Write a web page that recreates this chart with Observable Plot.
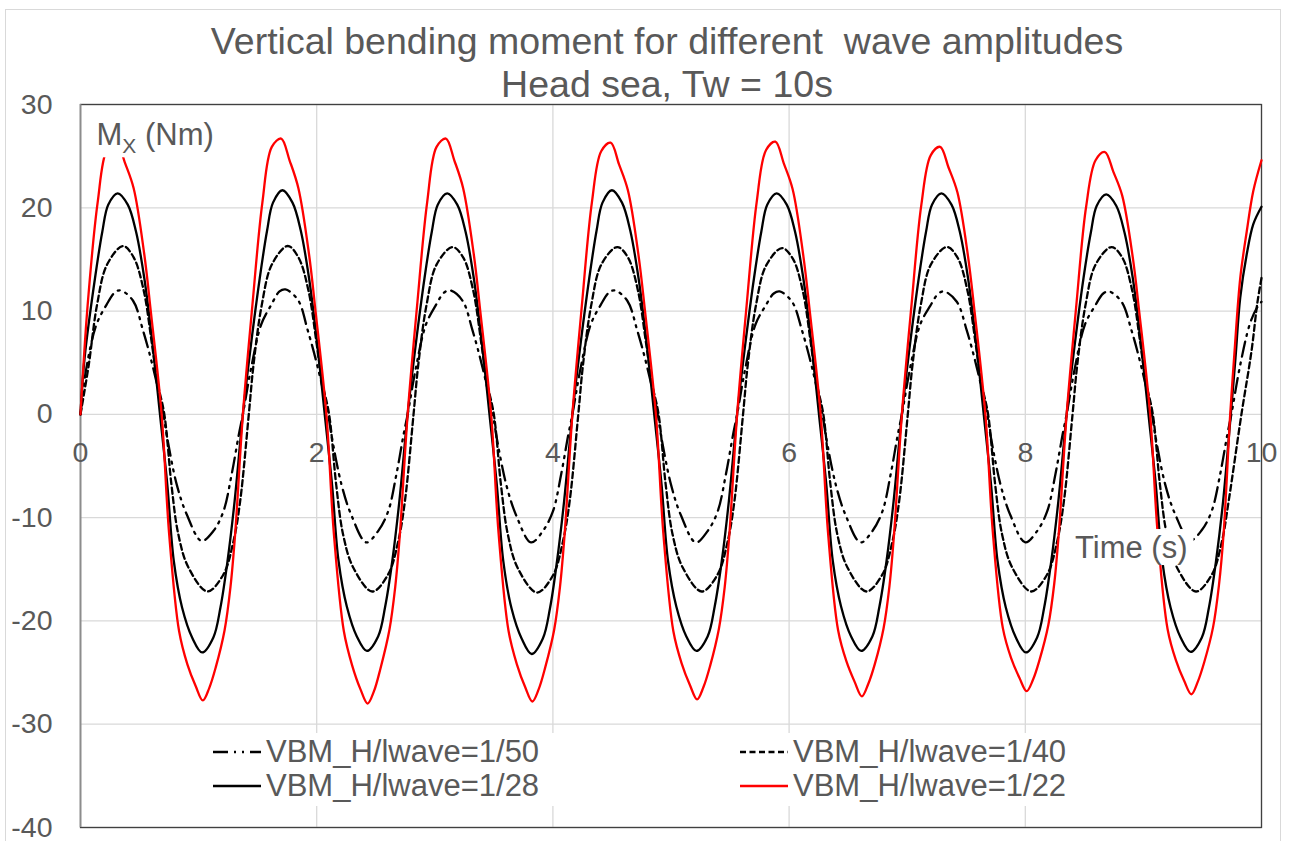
<!DOCTYPE html>
<html><head><meta charset="utf-8">
<script src="https://cdn.jsdelivr.net/npm/d3@7"></script>
<script src="https://cdn.jsdelivr.net/npm/@observablehq/plot@0.6"></script>
<style>
html,body{margin:0;padding:0;background:#fff;}
#root{position:relative;width:1291px;height:841px;overflow:hidden;font-family:"Liberation Sans",Arial,sans-serif;color:#595959;}
#frameOuter{position:absolute;left:5px;top:9px;width:1276px;height:840px;border:1px solid #d9d9d9;box-sizing:border-box;}
#title{position:absolute;left:167px;width:1000px;top:20px;text-align:center;font-size:37.5px;line-height:43px;white-space:pre;}
#chart{position:absolute;left:0;top:94px;}
#legend{position:absolute;left:205px;top:733px;width:880px;height:73px;background:#fff;}
.item{position:absolute;height:33px;display:flex;align-items:center;font-size:31px;white-space:nowrap;color:#595959;}
.item svg{margin-right:3px;}
</style></head>
<body><div id="root">
<div id="frameOuter"></div>
<div id="title"></div>
<div id="chart"></div>
<div id="legend"></div>
</div>
<script>
const titleLines = ["Vertical bending moment for different  wave amplitudes", "Head sea, Tw = 10s"];
const seriesNames = ["VBM_H/lwave=1/50", "VBM_H/lwave=1/40", "VBM_H/lwave=1/28", "VBM_H/lwave=1/22"];
const xTicks = [0, 2, 4, 6, 8, 10];
const yTicks = [-40, -30, -20, -10, 0, 10, 20, 30];
const yLabelText = "M_X (Nm)";
const xLabelText = "Time (s)";

// H/lwave = 1/50 (dash-dot)
const t50 = [
0, 0.05, 0.135, 0.22, 0.29, 0.34, 0.445, 0.53, 0.615, 0.702, 0.73, 0.815, 0.9, 1.025, 1.125, 1.21, 1.28, 1.34,
1.375, 1.445, 1.53, 1.615, 1.685, 1.735, 1.84, 1.925, 2.01, 2.097, 2.125, 2.21, 2.295, 2.42, 2.52, 2.605, 2.675, 2.735,
2.77, 2.84, 2.925, 3.01, 3.08, 3.13, 3.235, 3.32, 3.405, 3.492, 3.52, 3.605, 3.69, 3.815, 3.915, 4.0, 4.07, 4.13,
4.165, 4.235, 4.32, 4.405, 4.475, 4.525, 4.63, 4.715, 4.8, 4.887, 4.915, 5.0, 5.085, 5.21, 5.31, 5.395, 5.465, 5.525,
5.56, 5.63, 5.715, 5.8, 5.87, 5.92, 6.025, 6.11, 6.195, 6.282, 6.31, 6.395, 6.48, 6.605, 6.705, 6.79, 6.86, 6.92,
6.955, 7.025, 7.11, 7.195, 7.265, 7.315, 7.42, 7.505, 7.59, 7.677, 7.705, 7.79, 7.875, 8.0, 8.1, 8.185, 8.255, 8.315,
8.35, 8.42, 8.505, 8.59, 8.66, 8.71, 8.815, 8.9, 8.985, 9.072, 9.1, 9.185, 9.27, 9.395, 9.495, 9.58, 9.65, 9.71,
9.745, 9.815, 9.9, 9.96, 10];
const v50 = [
0, 4.5, 8.7, 10.6, 11.8, 12.0, 11, 8.1, 4.5, 0, -2, -6.8, -9.7, -12.25, -11.3, -9.4, -5.8, -2,
0, 4.5, 8.7, 10.6, 11.9, 12.1, 11.1, 8.1, 4.5, 0, -2, -6.8, -9.8, -12.4, -11.3, -9.4, -5.8, -2,
0, 4.5, 8.7, 10.6, 11.8, 12.0, 11, 8.1, 4.5, 0, -2, -6.8, -9.8, -12.4, -11.3, -9.4, -5.8, -2,
0, 4.5, 8.7, 10.6, 11.8, 12.0, 11, 8.1, 4.5, 0, -2, -6.8, -9.8, -12.4, -11.3, -9.4, -5.8, -2,
0, 4.5, 8.7, 10.5, 11.7, 11.9, 10.9, 8.1, 4.5, 0, -2, -6.8, -9.8, -12.4, -11.3, -9.4, -5.8, -2,
0, 4.5, 8.7, 10.5, 11.7, 11.9, 10.9, 8.1, 4.5, 0, -2, -6.8, -9.8, -12.4, -11.3, -9.4, -5.8, -2,
0, 4.5, 8.7, 10.5, 11.7, 11.9, 10.9, 8.1, 4.5, 0, -2, -6.8, -9.7, -12.2, -11.2, -9.3, -5.8, -2,
0, 4.5, 8.7, 10.3, 10.9];

// H/lwave = 1/40 (short dash)
const t40 = [
0, 0.07, 0.14, 0.225, 0.36, 0.45, 0.535, 0.605, 0.65, 0.71, 0.77, 0.828, 0.913, 1.075, 1.21, 1.295, 1.352,
1.425, 1.465, 1.535, 1.62, 1.755, 1.845, 1.93, 2.0, 2.045, 2.105, 2.165, 2.223, 2.308, 2.47, 2.605, 2.69, 2.747,
2.82, 2.86, 2.93, 3.015, 3.15, 3.24, 3.325, 3.395, 3.44, 3.5, 3.56, 3.618, 3.703, 3.865, 4.0, 4.085, 4.142,
4.215, 4.255, 4.325, 4.41, 4.545, 4.635, 4.72, 4.79, 4.835, 4.895, 4.955, 5.013, 5.098, 5.26, 5.395, 5.48, 5.537,
5.61, 5.65, 5.72, 5.805, 5.94, 6.03, 6.115, 6.185, 6.23, 6.29, 6.35, 6.408, 6.493, 6.655, 6.79, 6.875, 6.932,
7.005, 7.045, 7.115, 7.2, 7.335, 7.425, 7.51, 7.58, 7.625, 7.685, 7.745, 7.803, 7.888, 8.05, 8.185, 8.27, 8.327,
8.4, 8.44, 8.51, 8.595, 8.73, 8.82, 8.905, 8.975, 9.02, 9.08, 9.14, 9.198, 9.283, 9.445, 9.58, 9.665, 9.722,
9.83, 9.915, 9.965, 10];
const v40 = [
0, 4.8, 10.6, 14.5, 16.3, 15.2, 12, 6.8, 3.2, 0, -6.8, -11.6, -14.8, -17.15, -15.5, -12.3, -8.4,
0, 4.8, 10.6, 14.5, 16.3, 15.2, 12, 6.8, 3.2, 0, -6.8, -11.6, -14.8, -17.15, -15.5, -12.3, -8.4,
0, 4.8, 10.6, 14.5, 16.2, 15.2, 12, 6.8, 3.2, 0, -6.8, -11.6, -14.9, -17.25, -15.6, -12.3, -8.4,
0, 4.8, 10.6, 14.5, 16.2, 15.2, 12, 6.8, 3.2, 0, -6.8, -11.6, -14.8, -17.15, -15.5, -12.3, -8.4,
0, 4.8, 10.6, 14.4, 16.1, 15.1, 12, 6.8, 3.2, 0, -6.8, -11.6, -14.8, -17.15, -15.5, -12.3, -8.4,
0, 4.8, 10.6, 14.5, 16.2, 15.2, 12, 6.8, 3.2, 0, -6.8, -11.6, -14.8, -17.15, -15.5, -12.3, -8.4,
0, 4.8, 10.6, 14.5, 16.2, 15.2, 12, 6.8, 3.2, 0, -6.8, -11.6, -14.8, -17.15, -15.5, -12.3, -8.4,
0, 6.1, 10.8, 13.2];

// H/lwave = 1/28 (solid black)
const t28 = [
0, 0.035, 0.123, 0.185, 0.235, 0.315, 0.4, 0.47, 0.54, 0.61, 0.673, 0.735, 0.79, 0.86, 0.945, 1.03, 1.125, 1.185, 1.245, 1.305,
1.375, 1.43, 1.518, 1.58, 1.63, 1.71, 1.795, 1.865, 1.935, 2.005, 2.068, 2.13, 2.185, 2.255, 2.34, 2.425, 2.52, 2.58, 2.64, 2.7,
2.77, 2.825, 2.913, 2.975, 3.025, 3.105, 3.19, 3.26, 3.33, 3.4, 3.463, 3.525, 3.58, 3.65, 3.735, 3.82, 3.915, 3.975, 4.035, 4.095,
4.165, 4.22, 4.308, 4.37, 4.42, 4.5, 4.585, 4.655, 4.725, 4.795, 4.858, 4.92, 4.975, 5.045, 5.13, 5.215, 5.31, 5.37, 5.43, 5.49,
5.56, 5.615, 5.703, 5.765, 5.815, 5.895, 5.98, 6.05, 6.12, 6.19, 6.253, 6.315, 6.37, 6.44, 6.525, 6.61, 6.705, 6.765, 6.825, 6.885,
6.955, 7.01, 7.098, 7.16, 7.21, 7.29, 7.375, 7.445, 7.515, 7.585, 7.648, 7.71, 7.765, 7.835, 7.92, 8.005, 8.1, 8.16, 8.22, 8.28,
8.35, 8.405, 8.493, 8.555, 8.605, 8.685, 8.77, 8.84, 8.91, 8.98, 9.043, 9.105, 9.16, 9.23, 9.315, 9.4, 9.495, 9.555, 9.615, 9.675,
9.74, 9.78, 9.82, 9.875, 9.93, 10];
const v28 = [
0, 5.5, 13.2, 17.7, 20.3, 21.4, 20.3, 17.7, 13.2, 6.8, 0, -6.8, -14.2, -18.7, -21.6, -23.05, -21.6, -18.7, -14.2, -8.4,
0, 5.5, 13.2, 17.8, 20.5, 21.7, 20.5, 17.8, 13.2, 6.8, 0, -6.8, -14.2, -18.6, -21.5, -22.9, -21.5, -18.6, -14.2, -8.4,
0, 5.5, 13.2, 17.7, 20.3, 21.4, 20.3, 17.7, 13.2, 6.8, 0, -6.8, -14.2, -18.8, -21.7, -23.2, -21.7, -18.8, -14.2, -8.4,
0, 5.5, 13.2, 17.8, 20.5, 21.7, 20.5, 17.8, 13.2, 6.8, 0, -6.8, -14.2, -18.6, -21.5, -22.9, -21.5, -18.6, -14.2, -8.4,
0, 5.5, 13.2, 17.7, 20.3, 21.4, 20.3, 17.7, 13.2, 6.8, 0, -6.8, -14.2, -18.6, -21.5, -22.9, -21.5, -18.6, -14.2, -8.4,
0, 5.5, 13.2, 17.7, 20.3, 21.4, 20.3, 17.7, 13.2, 6.8, 0, -6.8, -14.2, -18.7, -21.6, -23.05, -21.6, -18.7, -14.2, -8.4,
0, 5.5, 13.2, 17.6, 20.2, 21.3, 20.2, 17.6, 13.2, 6.8, 0, -6.8, -14.2, -18.7, -21.6, -23.0, -21.6, -18.7, -14.2, -8.4,
0, 5.5, 11.3, 15.5, 18.4, 20.1];

// H/lwave = 1/22 (solid red)
const t22 = [
0, 0.06, 0.145, 0.225, 0.304, 0.375, 0.45, 0.54, 0.595, 0.687, 0.75, 0.835, 0.905, 0.975, 1.036, 1.09, 1.145, 1.22, 1.27, 1.31,
1.375, 1.455, 1.54, 1.62, 1.699, 1.77, 1.845, 1.935, 1.99, 2.082, 2.145, 2.23, 2.3, 2.37, 2.431, 2.485, 2.54, 2.615, 2.665, 2.705,
2.77, 2.85, 2.935, 3.015, 3.094, 3.165, 3.24, 3.33, 3.385, 3.477, 3.54, 3.625, 3.695, 3.765, 3.826, 3.88, 3.935, 4.01, 4.06, 4.1,
4.165, 4.245, 4.33, 4.41, 4.489, 4.56, 4.635, 4.725, 4.78, 4.872, 4.935, 5.02, 5.09, 5.16, 5.221, 5.275, 5.33, 5.405, 5.455, 5.495,
5.56, 5.64, 5.725, 5.805, 5.884, 5.955, 6.03, 6.12, 6.175, 6.267, 6.33, 6.415, 6.485, 6.555, 6.616, 6.67, 6.725, 6.8, 6.85, 6.89,
6.955, 7.035, 7.12, 7.2, 7.279, 7.35, 7.425, 7.515, 7.57, 7.662, 7.725, 7.81, 7.88, 7.95, 8.011, 8.065, 8.12, 8.195, 8.245, 8.285,
8.35, 8.43, 8.515, 8.595, 8.674, 8.745, 8.82, 8.91, 8.965, 9.057, 9.12, 9.205, 9.275, 9.345, 9.406, 9.46, 9.515, 9.59, 9.64, 9.68,
9.735, 9.77, 9.82, 9.875, 9.93, 10];
const v22 = [
0, 10.5, 20.5, 25.7, 26.5, 24.4, 21.9, 15.5, 10, 0, -11.5, -21, -24.2, -26.3, -27.7, -26.5, -24.5, -20.9, -16.7, -11.5,
0, 10.5, 20.5, 25.9, 26.7, 24.6, 21.9, 15.5, 10, 0, -11.5, -21, -24.3, -26.6, -28.0, -26.8, -24.6, -20.9, -16.7, -11.5,
0, 10.5, 20.5, 25.9, 26.7, 24.6, 21.9, 15.5, 10, 0, -11.5, -21, -24.2, -26.4, -27.8, -26.6, -24.5, -20.9, -16.7, -11.5,
0, 10.5, 20.5, 25.5, 26.3, 24.2, 21.7, 15.4, 10, 0, -11.5, -21, -24.1, -26.2, -27.6, -26.4, -24.4, -20.8, -16.7, -11.5,
0, 10.5, 20.5, 25.6, 26.4, 24.3, 21.8, 15.4, 10, 0, -11.5, -20.9, -23.9, -25.9, -27.3, -26.1, -24.2, -20.7, -16.6, -11.4,
0, 10.4, 20.3, 25.1, 25.9, 23.9, 21.5, 15.3, 10, 0, -11.4, -20.7, -23.6, -25.5, -26.8, -25.7, -23.8, -20.4, -16.4, -11.3,
0, 10.3, 20.1, 24.6, 25.4, 23.5, 21.2, 15.2, 9.9, 0, -11.4, -20.8, -23.8, -25.8, -27.1, -25.9, -24.0, -20.6, -16.5, -11.4,
0, 5.8, 13.2, 17.7, 21.6, 24.6];

// ---- styling (kept apart from the data) ----
const seriesStyle = {
  "VBM_H/lwave=1/50": {stroke: "#000000", dash: "15,6,2,6,2,6"},
  "VBM_H/lwave=1/40": {stroke: "#000000", dash: "6,3.5"},
  "VBM_H/lwave=1/28": {stroke: "#000000", dash: null},
  "VBM_H/lwave=1/22": {stroke: "#ff0000", dash: null}
};
const seriesData = {
  "VBM_H/lwave=1/50": [t50, v50],
  "VBM_H/lwave=1/40": [t40, v40],
  "VBM_H/lwave=1/28": [t28, v28],
  "VBM_H/lwave=1/22": [t22, v22]
};
const labelPos = {y: {x: 0.14, y: 26.0}, x: {x: 8.425, y: -13.96}};
const FONT = '"Liberation Sans", Arial, sans-serif';

document.getElementById("title").innerHTML = titleLines.map(s => `<div>${s}</div>`).join("");

const rowsFor = name => {
  const [ts, vs] = seriesData[name];
  return ts.map((t, i) => ({t, v: vs[i], series: name}));
};

const lineMarks = seriesNames.map(name => {
  const st = seriesStyle[name];
  const opts = {x: "t", y: "v", stroke: st.stroke, strokeWidth: 2.3, curve: "catmull-rom"};
  if (st.dash) opts.strokeDasharray = st.dash;
  return Plot.line(rowsFor(name), opts);
});

const plot = Plot.plot({
  width: 1291, height: 747,
  marginLeft: 80, marginRight: 30, marginTop: 10, marginBottom: 14,
  x: {domain: [0, 10], axis: null},
  y: {domain: [-40, 30], axis: null},
  style: {fontFamily: FONT, color: "#595959", background: "transparent", overflow: "visible"},
  marks: [
    Plot.gridX({ticks: xTicks, stroke: "#d9d9d9", strokeOpacity: 1, strokeWidth: 1.3}),
    Plot.gridY({ticks: yTicks, stroke: "#d9d9d9", strokeOpacity: 1, strokeWidth: 1.3}),
    Plot.frame({stroke: "#404040", strokeWidth: 1.3}),
    Plot.ruleX([0], {stroke: "#8c8c8c", strokeWidth: 1.6}),
    Plot.axisY({ticks: yTicks, tickSize: 0, tickPadding: 28, fontSize: 28.5, fill: "#595959", label: null, tickFormat: d => String(d)}),
    Plot.text(xTicks, {x: d => d, y: () => 0, text: d => String(d), dy: 39, fontSize: 28.5, fill: "#595959"}),
    ...lineMarks
  ]
});
document.getElementById("chart").appendChild(plot);

// axis titles with white background boxes, placed through the plot's scales
const sx = plot.scale("x"), sy = plot.scale("y");
const svg = d3.select(plot);
function addLabel(pos, build) {
  const g = svg.append("g").attr("text-anchor", "start");
  const txt = g.append("text")
    .attr("x", sx.apply(pos.x)).attr("y", sy.apply(pos.y))
    .attr("text-anchor", "start")
    .attr("font-size", 31).attr("fill", "#595959")
    .attr("font-family", FONT).style("white-space", "pre");
  build(txt);
  const bb = txt.node().getBBox();
  g.insert("rect", "text")
    .attr("x", bb.x - 6).attr("y", bb.y - 1)
    .attr("width", bb.width + 12).attr("height", bb.height + 1)
    .attr("fill", "#ffffff");
}
const [yMain, yRest] = yLabelText.split("_");
addLabel(labelPos.y, t => {
  t.append("tspan").text(yMain);
  t.append("tspan").attr("font-size", 21).attr("dy", 8).text(yRest.split(" ")[0]);
  t.append("tspan").attr("dy", -8).text(" " + yRest.split(" ").slice(1).join(" "));
});
addLabel(labelPos.x, t => t.text(xLabelText));

// legend
const legendSlots = [[8, 2.5], [535, 2.5], [8, 36], [535, 36]];
const legend = document.getElementById("legend");
seriesNames.forEach((name, i) => {
  const st = seriesStyle[name];
  const [lx, ly] = legendSlots[i];
  const item = document.createElement("div");
  item.className = "item";
  item.style.left = lx + "px";
  item.style.top = ly + "px";
  item.innerHTML = `<svg width="50" height="12"><line x1="0" x2="48" y1="6" y2="6" stroke="${st.stroke}" stroke-width="2.3" ${st.dash ? `stroke-dasharray="${st.dash}"` : ""}/></svg><span>${name}</span>`;
  legend.appendChild(item);
});
</script>
</body></html>
